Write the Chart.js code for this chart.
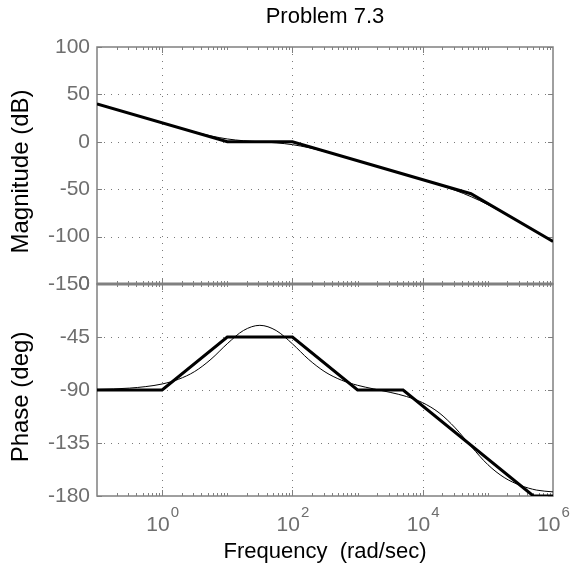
<!DOCTYPE html>
<html>
<head>
    <title>Problem 7.3</title>
    <script src="https://cdn.jsdelivr.net/npm/chart.js"></script>
    <style>
        body { margin: 0; background: #fff; }
    </style>
</head>
<body>
    <canvas id="bode" width="572" height="569"></canvas>
    <script>
        // asymptotes (thick)
        const asymMagFreq = [0.1, 10, 100, 55000, 1e6];
        const asymMag = [40, 0, 0, -54.8, -105.2];
        const asymPhaseFreq = [0.1, 1, 10, 100, 1000, 5000, 5e5, 1e6];
        const asymPhase = [-90, -90, -45, -45, -90, -90, -180, -180];

        // actual response (thin), read at quarter decades
        const freq = [0.1, 0.178, 0.316, 0.562, 1, 1.78, 3.16, 5.62, 10, 17.8, 31.6, 56.2,
            100, 178, 316, 562, 1000, 1780, 3160, 5620, 1e4, 17800, 31600, 56200,
            1e5, 178000, 316000, 562000, 1e6];
        const mag = [40, 35, 30, 25, 20, 15.1, 10.4, 6.2, 3.0, 1.1, 0, -1.1,
            -3.0, -6.2, -10.4, -15.1, -20, -25, -30, -35, -40.1, -45.4, -51.2, -58.1,
            -66.3, -75.6, -85.3, -95.2, -105.2];
        const phase = [-89.5, -89.1, -88.4, -87.1, -84.9, -80.9, -74.3, -63.9, -50.7, -39.4, -35.1, -39.5,
            -50.8, -64.1, -74.6, -81.6, -86.0, -89.1, -92.0, -95.5, -100.8, -109.3, -122.2, -138.3,
            -153.4, -164.3, -171.0, -175.0, -176.5];

        const magTicks = [-150, -100, -50, 0, 50, 100];
        const phaseTicks = [-180, -135, -90, -45, 0];
        const decadeLabels = [0, 2, 4, 6];

        const FONT = '"Liberation Sans", Arial, sans-serif';
        const GRAY = '#6e6e6e';

        const pts = (xs, ys) => xs.map((v, i) => ({x: v, y: ys[i]}));

        const bodeDecor = {
            id: 'bodeDecor',
            beforeDatasetsDraw(chart) {
                const {ctx, scales: {x, yMag, yPh}} = chart;
                const L = x.left, R = x.right;
                const panels = [[yMag, magTicks], [yPh, phaseTicks]];
                ctx.save();

                // dotted grid
                ctx.strokeStyle = '#7a7a7a';
                ctx.lineWidth = 1;
                ctx.setLineDash([1, 6]);
                for (const [ys, ticks] of panels) {
                    for (const v of ticks) {
                        const py = Math.round(ys.getPixelForValue(v)) + 0.5;
                        if (py < ys.top + 2 || py > ys.bottom - 2) continue;
                        ctx.beginPath(); ctx.moveTo(L, py); ctx.lineTo(R, py); ctx.stroke();
                    }
                    for (const e of decadeLabels) {
                        const px = Math.round(x.getPixelForValue(Math.pow(10, e))) + 0.5;
                        if (px > R - 2) continue;
                        ctx.beginPath(); ctx.moveTo(px, ys.top); ctx.lineTo(px, ys.bottom); ctx.stroke();
                    }
                }
                ctx.setLineDash([]);

                // tick marks inside the frames
                ctx.strokeStyle = '#808080';
                for (const [ys, ticks] of panels) {
                    for (let d = -1; d < 6; d++) {
                        for (let k = 1; k <= 9; k++) {
                            const f = k * Math.pow(10, d);
                            if (f <= 0.1) continue;
                            const px = Math.round(x.getPixelForValue(f)) + 0.5;
                            const len = (k === 1 && d % 2 === 0) ? 6 : 3;
                            ctx.beginPath();
                            ctx.moveTo(px, ys.bottom); ctx.lineTo(px, ys.bottom - len);
                            ctx.moveTo(px, ys.top); ctx.lineTo(px, ys.top + len);
                            ctx.stroke();
                        }
                    }
                    for (const v of ticks) {
                        const py = Math.round(ys.getPixelForValue(v)) + 0.5;
                        ctx.beginPath();
                        ctx.moveTo(L, py); ctx.lineTo(L + 5, py);
                        ctx.moveTo(R, py); ctx.lineTo(R - 5, py);
                        ctx.stroke();
                    }
                }

                // frames
                ctx.lineWidth = 1.5;
                for (const [ys] of panels) {
                    ctx.strokeRect(L, ys.top, R - L, ys.bottom - ys.top);
                }
                ctx.lineWidth = 3;
                ctx.beginPath(); ctx.moveTo(L, yMag.bottom); ctx.lineTo(R, yMag.bottom); ctx.stroke();
                ctx.restore();
            },
            afterDraw(chart) {
                const {ctx, scales: {x, yMag, yPh}} = chart;
                const cx = (x.left + x.right) / 2;
                ctx.save();

                // x tick labels 10^n
                ctx.fillStyle = GRAY;
                ctx.textBaseline = 'alphabetic';
                ctx.textAlign = 'left';
                for (const e of decadeLabels) {
                    const px = x.getPixelForValue(Math.pow(10, e));
                    ctx.font = '21px ' + FONT;
                    const w1 = ctx.measureText('10').width;
                    ctx.font = '15px ' + FONT;
                    const w2 = ctx.measureText(String(e)).width;
                    const x0 = px - (w1 + w2) / 2;
                    ctx.font = '21px ' + FONT;
                    ctx.fillText('10', x0, 531);
                    ctx.font = '15px ' + FONT;
                    ctx.fillText(String(e), x0 + w1 + 1, 517);
                }

                // titles
                ctx.fillStyle = '#000';
                ctx.textAlign = 'center';
                ctx.textBaseline = 'middle';
                ctx.font = '22px ' + FONT;
                ctx.fillText('Problem 7.3', cx, 17);
                ctx.fillText('Frequency  (rad/sec)', cx, 552);

                ctx.font = '24px ' + FONT;
                const ylab = (text, yc) => {
                    ctx.save();
                    ctx.translate(21, yc);
                    ctx.rotate(-Math.PI / 2);
                    ctx.fillText(text, 0, 0);
                    ctx.restore();
                };
                ylab('Magnitude (dB)', (yMag.top + yMag.bottom) / 2 + 6);
                ylab('Phase (deg)', (yPh.top + yPh.bottom) / 2 + 7);
                ctx.restore();
            }
        };

        const yTickOpts = {
            color: GRAY,
            font: {family: FONT, size: 21},
            padding: 7,
            autoSkip: false
        };

        const chart = new Chart(document.getElementById('bode'), {
            type: 'line',
            data: {
                datasets: [
                    {data: pts(freq, mag), yAxisID: 'yMag', borderColor: '#000', borderWidth: 1,
                        pointRadius: 0, cubicInterpolationMode: 'monotone'},
                    {data: pts(asymMagFreq, asymMag), yAxisID: 'yMag', borderColor: '#000', borderWidth: 3,
                        pointRadius: 0, tension: 0},
                    {data: pts(freq, phase), yAxisID: 'yPh', borderColor: '#000', borderWidth: 1,
                        pointRadius: 0, cubicInterpolationMode: 'monotone'},
                    {data: pts(asymPhaseFreq, asymPhase), yAxisID: 'yPh', borderColor: '#000', borderWidth: 3,
                        pointRadius: 0, tension: 0}
                ]
            },
            options: {
                responsive: false,
                animation: false,
                layout: {padding: {top: 47, right: 19, left: 0, bottom: 0}},
                plugins: {
                    legend: {display: false},
                    tooltip: {enabled: false}
                },
                scales: {
                    x: {
                        type: 'logarithmic', min: 0.1, max: 1e6, position: 'bottom',
                        grid: {display: false}, border: {display: false},
                        ticks: {display: false},
                        afterFit: s => { s.height = 73; }
                    },
                    yPh: {
                        type: 'linear', position: 'left', stack: 'bode', stackWeight: 212,
                        min: -180, max: 0,
                        ticks: Object.assign({stepSize: 45}, yTickOpts),
                        grid: {display: false, drawTicks: false, tickLength: 0}, border: {display: false},
                        afterFit: s => { s.width = 97; }
                    },
                    yMag: {
                        type: 'linear', position: 'left', stack: 'bode', stackWeight: 237,
                        min: -150, max: 100,
                        ticks: Object.assign({stepSize: 50}, yTickOpts),
                        grid: {display: false, drawTicks: false, tickLength: 0}, border: {display: false},
                        afterFit: s => { s.width = 97; }
                    }
                }
            },
            plugins: [bodeDecor]
        });
    </script>
</body>
</html>
